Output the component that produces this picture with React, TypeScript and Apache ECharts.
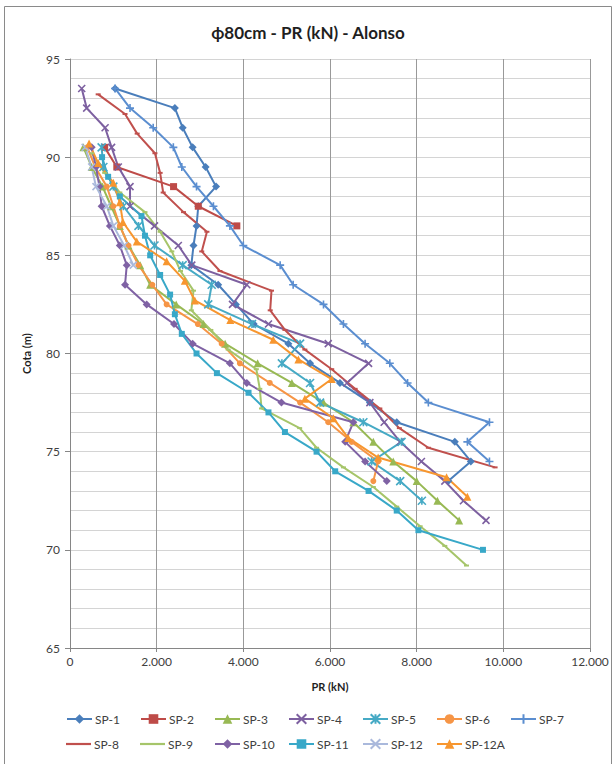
import React, { useEffect, useRef } from "react";
import * as echarts from "echarts";

// ---- Data (PR in kN, depth "Cota" in m) ----
const SP1_COTA = [93.5, 92.5, 91.5, 90.5, 89.5, 88.5, 87.5, 86.5, 85.5, 84.5, 83.5, 82.5, 81.5, 80.5, 79.5, 78.5, 77.5, 76.5, 75.5, 74.5, 73.5];
const SP1_PR = [1040, 2420, 2600, 2830, 3130, 3370, 2960, 2920, 2850, 2800, 3420, 3830, 4240, 5040, 5540, 6230, 6920, 7540, 8880, 9250, 8730];

const SP2_COTA = [90.5, 89.5, 88.5, 87.5, 86.5];
const SP2_PR = [800, 1080, 2390, 2960, 3850];

const SP3_COTA = [90.5, 89.5, 88.5, 87.5, 86.5, 85.5, 84.5, 83.5, 82.5, 81.5, 80.5, 79.5, 78.5, 77.5, 76.5, 75.5, 74.5, 73.5, 72.5, 71.5];
const SP3_PR = [310, 500, 750, 950, 1150, 1350, 1620, 1850, 2450, 3080, 3580, 4330, 5120, 5850, 6540, 7000, 7460, 8000, 8480, 8980];

const SP4_COTA = [93.5, 92.5, 91.5, 90.5, 89.5, 88.5, 87.5, 86.5, 85.5, 84.5, 83.5, 82.5, 81.5, 80.5, 79.5, 78.5, 77.5, 76.5, 75.5, 74.5, 73.5, 72.5, 71.5];
const SP4_PR = [270, 385, 810, 960, 1115, 1385, 1385, 1950, 2500, 2810, 4080, 3750, 4580, 5960, 6890, 6390, 6920, 7250, 7620, 8110, 8650, 9080, 9600];

const SP5_COTA = [90.5, 89.5, 88.5, 87.5, 86.5, 85.5, 84.5, 83.5, 82.5, 81.5, 80.5, 79.5, 78.5, 77.5, 76.5, 75.5, 74.5, 73.5, 72.5];
const SP5_PR = [730, 770, 1000, 1230, 1580, 1950, 2600, 3270, 3190, 4200, 5310, 4890, 5540, 5770, 6770, 7650, 6960, 7620, 8120];

const SP6_COTA = [90.5, 89.5, 88.5, 87.5, 86.5, 85.5, 84.5, 83.5, 82.5, 81.5, 80.5, 79.5, 78.5, 77.5, 76.5, 75.5, 74.5, 73.5];
const SP6_PR = [400, 580, 850, 1000, 1150, 1350, 1580, 1900, 2230, 2950, 3500, 3920, 4610, 5310, 5960, 6500, 7110, 7000];

const SP7_COTA = [93.5, 92.5, 91.5, 90.5, 89.5, 88.5, 87.5, 86.5, 85.5, 84.5, 83.5, 82.5, 81.5, 80.5, 79.5, 78.5, 77.5, 76.5, 75.5, 74.5];
const SP7_PR = [1040, 1385, 1920, 2385, 2580, 2920, 3310, 3690, 4000, 4850, 5150, 5850, 6310, 6810, 7380, 7790, 8270, 9680, 9170, 9680];

const SP8_COTA = [93.2, 92.2, 91.2, 90.2, 89.2, 88.2, 87.2, 86.2, 85.2, 84.2, 83.2, 82.2, 81.2, 80.2, 79.2, 78.2, 77.2, 76.2, 75.2, 74.2];
const SP8_PR = [650, 1270, 1550, 1960, 2080, 2150, 2620, 3160, 3040, 3460, 4650, 4620, 4960, 5420, 6040, 6580, 7150, 7600, 8270, 9810];

const SP9_COTA = [90.2, 89.2, 88.2, 87.2, 86.2, 85.2, 84.2, 83.2, 82.2, 81.2, 80.2, 79.2, 78.2, 77.2, 76.2, 75.2, 74.2, 73.2, 72.2, 71.2, 70.2, 69.2];
const SP9_PR = [500, 800, 1150, 1730, 2080, 2350, 2550, 2850, 2800, 3250, 3650, 4300, 4380, 4420, 5300, 5690, 6310, 7000, 7540, 8080, 8650, 9150];

const SP10_COTA = [90.5, 89.5, 88.5, 87.5, 86.5, 85.5, 84.5, 83.5, 82.5, 81.5, 80.5, 79.5, 78.5, 77.5, 76.5, 75.5, 74.5, 73.5];
const SP10_PR = [500, 600, 680, 730, 920, 1150, 1310, 1270, 1770, 2400, 2830, 3690, 4080, 4880, 6540, 6350, 6810, 7310];

const SP11_COTA = [90, 89, 88, 87, 86, 85, 84, 83, 82, 81, 80, 79, 78, 77, 76, 75, 74, 73, 72, 71, 70];
const SP11_PR = [740, 880, 1150, 1650, 1730, 1850, 2080, 2310, 2420, 2580, 2920, 3390, 4120, 4580, 4960, 5690, 6120, 6890, 7540, 8040, 9530];

const SP12_COTA = [90.5, 89.5, 88.5, 87.5, 86.5, 85.5, 84.5];
const SP12_PR = [350, 500, 600, 850, 1000, 1250, 1460];

const SP12A_COTA = [90.7, 89.7, 88.7, 87.7, 86.7, 85.7, 84.7, 83.7, 82.7, 81.7, 80.7, 79.7, 78.7, 77.7, 76.7, 75.7, 74.7, 73.7, 72.7];
const SP12A_PR = [440, 650, 1000, 1150, 1220, 1540, 2230, 2650, 2880, 3700, 4690, 5270, 6040, 5420, 6080, 6420, 7110, 8690, 9170];

const X_TICKS = [0, 2000, 4000, 6000, 8000, 10000, 12000];
const Y_TICKS = [65, 70, 75, 80, 85, 90, 95];

const SYM_X = "path://M0,0L10,10M10,0L0,10";
const SYM_STAR = "path://M0,0L10,10M10,0L0,10M5,0L5,10";
const SYM_PLUS = "path://M5,0L5,10M0,5L10,5";
const ICON_LINE = "path://M0,0L25,0L25,2.2L0,2.2Z";

const SERIES_DEF = [
  { name: "SP-1", cota: SP1_COTA, pr: SP1_PR, color: "#4A7EBB", symbol: "diamond", size: 8, stroke: false, plain: false },
  { name: "SP-2", cota: SP2_COTA, pr: SP2_PR, color: "#BE4B48", symbol: "rect", size: 7, stroke: false, plain: false },
  { name: "SP-3", cota: SP3_COTA, pr: SP3_PR, color: "#98B954", symbol: "triangle", size: 8, stroke: false, plain: false },
  { name: "SP-4", cota: SP4_COTA, pr: SP4_PR, color: "#7D60A0", symbol: SYM_X, size: 7, stroke: true, plain: false },
  { name: "SP-5", cota: SP5_COTA, pr: SP5_PR, color: "#46AAC5", symbol: SYM_STAR, size: 8, stroke: true, plain: false },
  { name: "SP-6", cota: SP6_COTA, pr: SP6_PR, color: "#F69546", symbol: "circle", size: 6, stroke: false, plain: false },
  { name: "SP-7", cota: SP7_COTA, pr: SP7_PR, color: "#5B8ED0", symbol: SYM_PLUS, size: 8, stroke: true, plain: false },
  { name: "SP-8", cota: SP8_COTA, pr: SP8_PR, color: "#C0504D", symbol: "rect", size: [5, 2], stroke: false, plain: true },
  { name: "SP-9", cota: SP9_COTA, pr: SP9_PR, color: "#A6C56A", symbol: "rect", size: [5, 2], stroke: false, plain: true },
  { name: "SP-10", cota: SP10_COTA, pr: SP10_PR, color: "#7F62A4", symbol: "diamond", size: 8, stroke: false, plain: false },
  { name: "SP-11", cota: SP11_COTA, pr: SP11_PR, color: "#38A8C8", symbol: "rect", size: 6, stroke: false, plain: false },
  { name: "SP-12", cota: SP12_COTA, pr: SP12_PR, color: "#AAB9DC", symbol: SYM_X, size: 7, stroke: true, plain: false },
  { name: "SP-12A", cota: SP12A_COTA, pr: SP12A_PR, color: "#F7962F", symbol: "triangle", size: 8, stroke: false, plain: false },
];

const LEGEND_LEFT = [61, 135, 209, 283, 357, 431, 505];
const FONT = "Lato, 'Open Sans', sans-serif";

function fmtThousands(v: number): string {
  return String(v).replace(/\B(?=(\d{3})+(?!\d))/g, ".");
}

export default function App() {
  const ref = useRef<HTMLDivElement>(null);

  useEffect(() => {
    if (!ref.current) return;
    const chart = echarts.init(ref.current, undefined, { renderer: "svg" });

    const series = SERIES_DEF.map((s) => ({
      name: s.name,
      type: "line",
      data: s.cota.map((c, i) => [s.pr[i], c]),
      symbol: s.symbol,
      symbolSize: s.size,
      showSymbol: true,
      lineStyle: { width: 2, color: s.color },
      itemStyle: s.stroke
        ? { color: s.color, borderColor: s.color, borderWidth: 1.6 }
        : { color: s.color, borderWidth: 0 },
      emphasis: { disabled: true },
    }));

    const legends = SERIES_DEF.map((s, i) => ({
      data: [s.plain ? { name: s.name, icon: ICON_LINE } : s.name],
      left: LEGEND_LEFT[i % 7],
      top: i < 7 ? 708 : 733,
      itemWidth: 25,
      itemHeight: 12,
      itemGap: 4,
      textStyle: { fontFamily: FONT, fontSize: 12, color: "#404040", padding: [0, 0, 0, -2] },
      selectedMode: false,
    }));

    chart.setOption({
      animation: false,
      backgroundColor: "#ffffff",
      title: {
        text: "ϕ80cm - PR (kN) - Alonso",
        left: "center",
        top: 19,
        textStyle: { fontFamily: FONT, fontSize: 17, fontWeight: "bold", color: "#1f1f1f" },
      },
      graphic: [
        {
          type: "rect",
          silent: true,
          shape: { x: 4.5, y: 6.5, width: 607, height: 770 },
          style: { fill: "none", stroke: "#8a8a8a", lineWidth: 1 },
        },
      ],
      legend: legends,
      grid: { left: 70, right: 26, top: 59, bottom: 116 },
      xAxis: {
        type: "value",
        min: X_TICKS[0],
        max: X_TICKS[X_TICKS.length - 1],
        interval: 2000,
        name: "PR (kN)",
        nameLocation: "middle",
        nameGap: 33,
        nameTextStyle: { fontFamily: FONT, fontSize: 11, fontWeight: "bold", color: "#1f1f1f" },
        axisLine: { show: true, onZero: false, lineStyle: { color: "#868686" } },
        axisTick: { show: true, length: 4, lineStyle: { color: "#868686" } },
        axisLabel: {
          color: "#404040",
          fontFamily: FONT,
          fontSize: 12,
          margin: 7,
          formatter: (v: number) => fmtThousands(v),
        },
        splitLine: { show: true, lineStyle: { color: "#999999", width: 1 } },
      },
      yAxis: {
        type: "value",
        min: Y_TICKS[0],
        max: Y_TICKS[Y_TICKS.length - 1],
        interval: 5,
        name: "Cota (m)",
        nameLocation: "middle",
        nameGap: 38,
        nameTextStyle: { fontFamily: FONT, fontSize: 11, fontWeight: "bold", color: "#1f1f1f" },
        axisLine: { show: true, onZero: false, lineStyle: { color: "#868686" } },
        axisTick: { show: true, length: 5, lineStyle: { color: "#868686" } },
        minorTick: { show: false, splitNumber: 5 },
        minorSplitLine: { show: true, lineStyle: { color: "#d4d4d4", width: 1 } },
        axisLabel: { color: "#404040", fontFamily: FONT, fontSize: 12, margin: 10 },
        splitLine: { show: true, lineStyle: { color: "#d4d4d4", width: 1 } },
      },
      series,
    });

    return () => chart.dispose();
  }, []);

  return (
    <div
      ref={ref}
      style={{ position: "absolute", left: 0, top: 0, width: 616, height: 764, background: "#fff" }}
    />
  );
}
